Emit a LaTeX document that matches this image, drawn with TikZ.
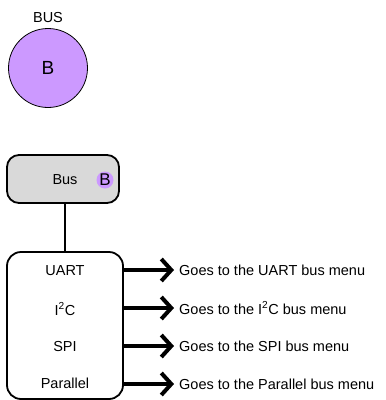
\documentclass[tikz,border=0pt]{standalone}
\usepackage{fontspec}
\setmainfont{Liberation Sans}
\usetikzlibrary{arrows.meta}
\definecolor{purp}{HTML}{CC99FF}
\definecolor{boxgray}{HTML}{D9D9D9}
\begin{document}
\begin{tikzpicture}[x=1pt,y=-1pt,
  lbl/.style={font=\fontsize{14.5}{16}\selectfont, inner sep=0pt},
  biglbl/.style={font=\fontsize{19}{20}\selectfont},
  boxline/.style={draw, line width=1.8pt},
  goarrow/.style={line width=4pt, shorten >=5pt, -{Straight Barb[length=10pt,width=22pt,line width=4pt]}},
  golbl/.style={lbl, anchor=west}]
\useasboundingbox (0,0) rectangle (386,400);
% top legend circle
\node[lbl] (buslbl) at (48,18) {BUS};
\node[circle, draw, line width=0.8pt, fill=purp, minimum size=79pt, inner sep=0pt, biglbl] (bigB) at (48,68) {B};
% bus box
\node[boxline, rounded corners=12pt, fill=boxgray, minimum width=112pt, minimum height=48pt, inner sep=0pt] (bus) at (63,179) {};
\node[lbl] (bustxt) at (65,180) {Bus};
\node[circle, fill=purp, minimum size=17pt, inner sep=0pt, font=\fontsize{17}{17}\selectfont] (smallB) at (105,180) {B};
% list box
\node[boxline, rounded corners=14pt, minimum width=116pt, minimum height=147pt, inner sep=0pt] (list) at (65,325.5) {};
\draw[line width=1.8pt] (list.north) -- (list.north |- bus.south);
\node[lbl] (uart) at (65,271) {UART};
\node[lbl] (iic) at (65,309) {I\textsuperscript{2}C};
\node[lbl] (spi) at (65,347) {SPI};
\node[lbl] (par) at (65,383) {Parallel};
% arrows and labels
\node[golbl] (g1) at (179,270) {Goes to the UART bus menu};
\node[golbl] (g2) at (179,308) {Goes to the I\textsuperscript{2}C bus menu};
\node[golbl] (g3) at (179,346) {Goes to the SPI bus menu};
\node[golbl] (g4) at (179,384) {Goes to the Parallel bus menu};
\coordinate (a1) at (123,270);
\coordinate (a2) at (123,308);
\coordinate (a3) at (123,346);
\coordinate (a4) at (123,384);
\draw[goarrow] (a1) -- (g1.west);
\draw[goarrow] (a2) -- (g2.west);
\draw[goarrow] (a3) -- (g3.west);
\draw[goarrow] (a4) -- (g4.west);
\end{tikzpicture}
\end{document}
